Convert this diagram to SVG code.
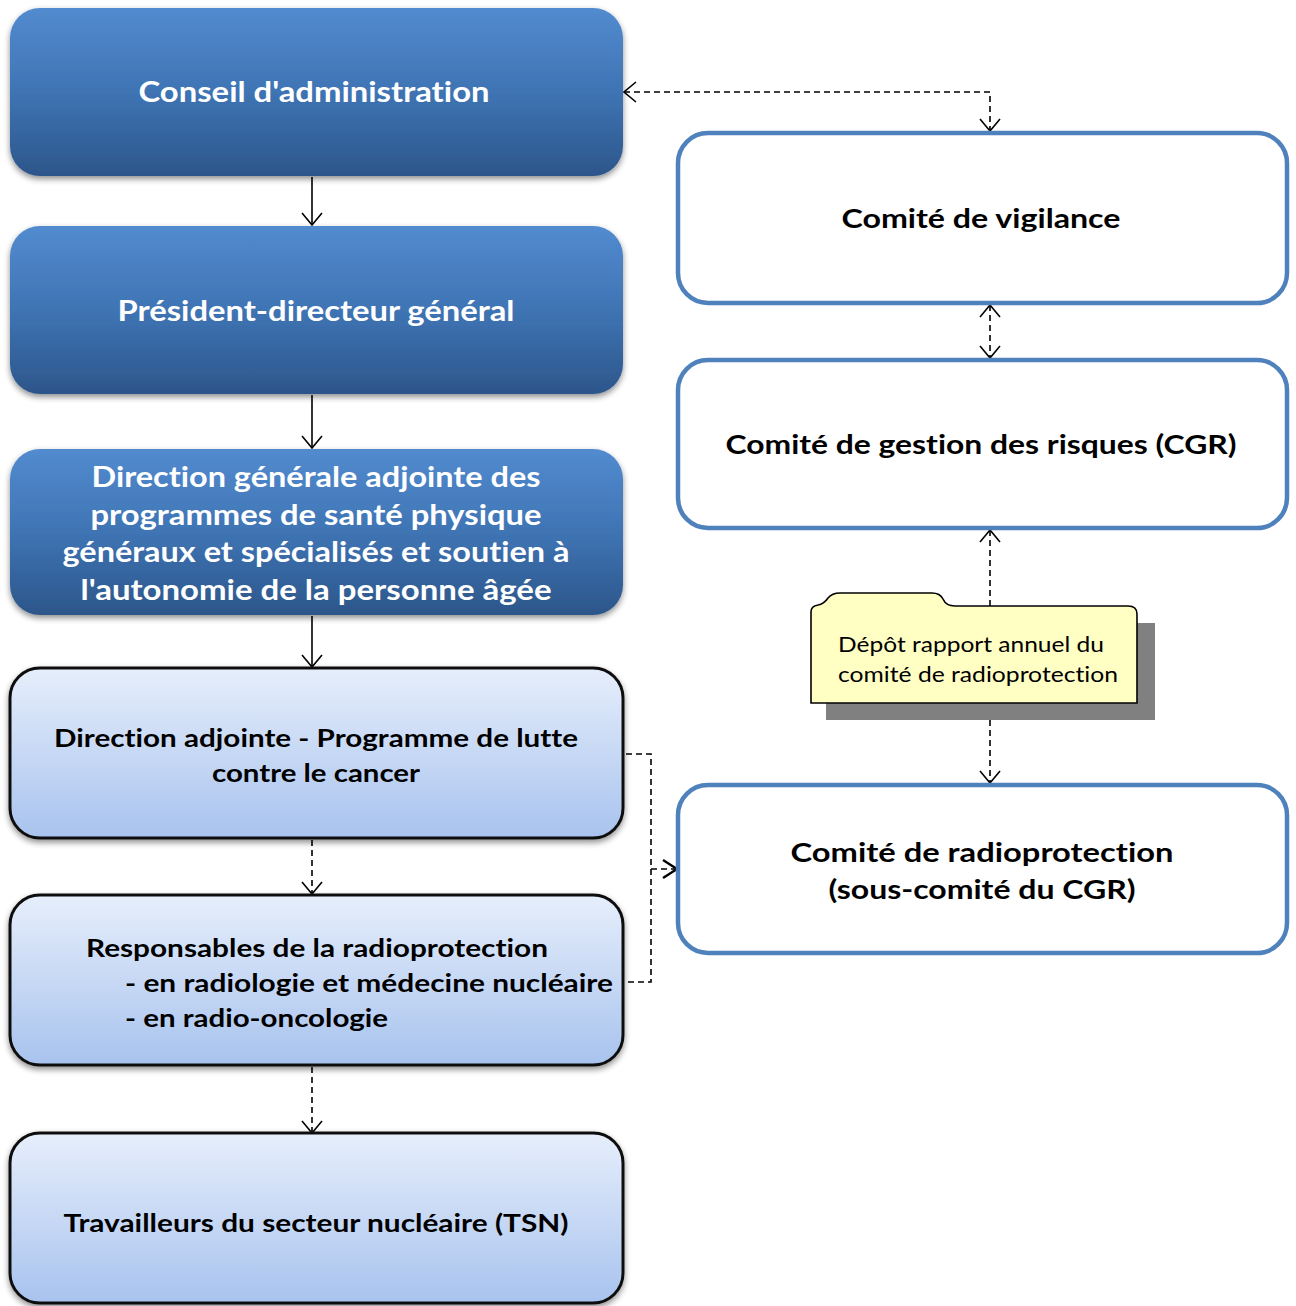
<svg xmlns="http://www.w3.org/2000/svg" width="1296" height="1306" viewBox="0 0 1296 1306">
<defs>
<linearGradient id="gBlue" x1="0" y1="0" x2="0" y2="1">
<stop offset="0" stop-color="#528bcf"/>
<stop offset="0.5" stop-color="#3f74b4"/>
<stop offset="1" stop-color="#2c568a"/>
</linearGradient>
<linearGradient id="gLight" x1="0" y1="0" x2="0" y2="1">
<stop offset="0" stop-color="#e6eefb"/>
<stop offset="1" stop-color="#a8c3ee"/>
</linearGradient>
<filter id="sh" x="-5%" y="-10%" width="110%" height="125%">
<feGaussianBlur in="SourceAlpha" stdDeviation="3"/>
<feOffset dx="0" dy="3" result="b"/>
<feComponentTransfer><feFuncA type="linear" slope="0.45"/></feComponentTransfer>
<feMerge><feMergeNode/><feMergeNode in="SourceGraphic"/></feMerge>
</filter>
<marker id="arr" viewBox="0 0 14 22" refX="13" refY="11" markerWidth="14" markerHeight="22" markerUnits="userSpaceOnUse" orient="auto-start-reverse">
<path d="M1 1 L13 11 L1 21" fill="none" stroke="#000" stroke-width="1.6"/>
</marker>
<marker id="arrB" viewBox="0 0 16 22" refX="15" refY="11" markerWidth="16" markerHeight="22" markerUnits="userSpaceOnUse" orient="auto">
<path d="M1 2 L15 11 L1 20" fill="none" stroke="#000" stroke-width="2.4"/>
</marker>
</defs>
<style>
text{font-variant-ligatures:none;font-feature-settings:"liga" 0}
.blue{fill:url(#gBlue);filter:url(#sh)}
.light{fill:url(#gLight);stroke:#111;stroke-width:3;filter:url(#sh)}
.right{fill:#fff;stroke:#4f81bd;stroke-width:4.5}
.tw{font-family:Lato,"Open Sans",sans-serif;font-weight:bold;fill:#fff;font-size:28px}
.tb{font-family:Lato,"Open Sans",sans-serif;font-weight:bold;fill:#000;font-size:25px}
.tr{font-family:Lato,"Open Sans",sans-serif;font-weight:bold;fill:#000;font-size:26px}
.tn{font-family:Lato,"Open Sans",sans-serif;fill:#000;font-size:21px}
.c{stroke:#000;stroke-width:1.6;fill:none}
.d{stroke-dasharray:6 4}
</style>
<g id="connectors">
<path class="c" d="M312 177 V225" marker-end="url(#arr)"/>
<path class="c" d="M312 395 V448" marker-end="url(#arr)"/>
<path class="c" d="M312 616 V667" marker-end="url(#arr)"/>
<path class="c d" d="M312 840 V894" marker-end="url(#arr)"/>
<path class="c d" d="M312 1067 V1133" marker-end="url(#arr)"/>
<path class="c d" d="M624 92 H990 V131" marker-start="url(#arr)" marker-end="url(#arr)"/>
<path class="c d" d="M990 305 V358" marker-start="url(#arr)" marker-end="url(#arr)"/>
<path class="c d" d="M990 530 V783" marker-start="url(#arr)" marker-end="url(#arr)"/>
<path class="c d" d="M626 754 H651 V982 H626"/>
<path class="c d" d="M651 869 H677" marker-end="url(#arrB)"/>
</g>
<g id="n-conseil">
<rect class="blue" x="10" y="8" width="613" height="168" rx="30"/>
<text class="tw" x="314" y="102" text-anchor="middle" textLength="351" lengthAdjust="spacingAndGlyphs">Conseil d'administration</text>
</g>
<g id="n-pdg">
<rect class="blue" x="10" y="226" width="613" height="168" rx="30"/>
<text class="tw" x="316" y="321" text-anchor="middle" textLength="397" lengthAdjust="spacingAndGlyphs">Président-directeur général</text>
</g>
<g id="n-dga">
<rect class="blue" x="10" y="449" width="613" height="166" rx="30"/>
<text class="tw" x="316" y="487" text-anchor="middle" textLength="449" lengthAdjust="spacingAndGlyphs">Direction générale adjointe des</text>
<text class="tw" x="316" y="525" text-anchor="middle" textLength="451" lengthAdjust="spacingAndGlyphs">programmes de santé physique</text>
<text class="tw" x="316" y="562" text-anchor="middle" textLength="507" lengthAdjust="spacingAndGlyphs">généraux et spécialisés et soutien à</text>
<text class="tw" x="316" y="600" text-anchor="middle" textLength="471" lengthAdjust="spacingAndGlyphs">l'autonomie de la personne âgée</text>
</g>
<g id="n-da">
<rect class="light" x="10" y="668" width="613" height="170" rx="30"/>
<text class="tb" x="316" y="747" text-anchor="middle" textLength="524" lengthAdjust="spacingAndGlyphs">Direction adjointe - Programme de lutte</text>
<text class="tb" x="316" y="782" text-anchor="middle" textLength="208" lengthAdjust="spacingAndGlyphs">contre le cancer</text>
</g>
<g id="n-resp">
<rect class="light" x="10" y="895" width="613" height="170" rx="30"/>
<text class="tb" x="86" y="957" textLength="462" lengthAdjust="spacingAndGlyphs">Responsables de la radioprotection</text>
<text class="tb" x="125" y="992" textLength="488" lengthAdjust="spacingAndGlyphs">- en radiologie et médecine nucléaire</text>
<text class="tb" x="125" y="1027" textLength="263" lengthAdjust="spacingAndGlyphs">- en radio-oncologie</text>
</g>
<g id="n-tsn">
<rect class="light" x="10" y="1133" width="613" height="170" rx="30"/>
<text class="tb" x="316" y="1232" text-anchor="middle" textLength="505" lengthAdjust="spacingAndGlyphs">Travailleurs du secteur nucléaire (TSN)</text>
</g>
<g id="n-vigilance">
<rect class="right" x="678" y="133" width="609" height="170" rx="30"/>
<text class="tr" x="981" y="228" text-anchor="middle" textLength="279" lengthAdjust="spacingAndGlyphs">Comité de vigilance</text>
</g>
<g id="n-cgr">
<rect class="right" x="678" y="360" width="609" height="168" rx="30"/>
<text class="tr" x="981" y="454" text-anchor="middle" textLength="511" lengthAdjust="spacingAndGlyphs">Comité de gestion des risques (CGR)</text>
</g>
<g id="n-radio">
<rect class="right" x="678" y="785" width="609" height="168" rx="30"/>
<text class="tr" x="982" y="862" text-anchor="middle" textLength="383" lengthAdjust="spacingAndGlyphs">Comité de radioprotection</text>
<text class="tr" x="982" y="899" text-anchor="middle" textLength="307" lengthAdjust="spacingAndGlyphs">(sous-comité du CGR)</text>
</g>
<g id="n-note">
<rect x="826" y="623" width="329" height="97" fill="#808080"/>
<path d="M811 703 V612 Q811 606 818 605 Q824 604 828 598 Q832 593 840 593 H932 Q940 593 943 599 Q946 606 955 606 H1128 Q1137 606 1137 614 V703 Z" fill="#ffffc4" stroke="#000" stroke-width="1.6"/>
<text class="tn" x="838" y="652" textLength="266" lengthAdjust="spacingAndGlyphs">Dépôt rapport annuel du</text>
<text class="tn" x="838" y="682" textLength="280" lengthAdjust="spacingAndGlyphs">comité de radioprotection</text>
</g>
</svg>
